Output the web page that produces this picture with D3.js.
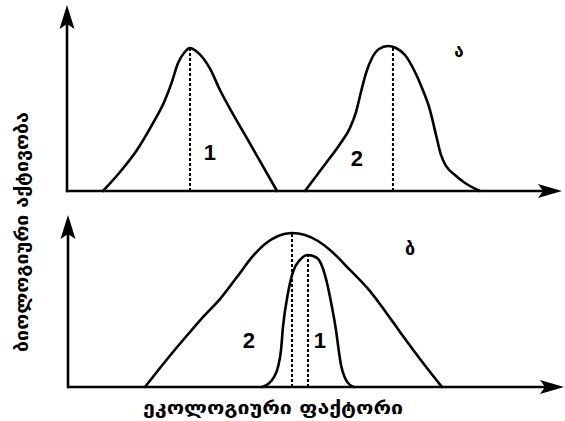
<!DOCTYPE html>
<html>
<head>
<meta charset="utf-8">
<script src="https://cdn.jsdelivr.net/npm/d3@7"></script>
<style>
  html, body { margin: 0; padding: 0; background: #fff; }
  svg { display: block; }
</style>
</head>
<body>
<svg id="chart" width="565" height="421"></svg>
<script>
// Ecological factor (x) vs biological activity (y), two schematic panels.
const axisTitleX = "ეკოლოგიური ფაქტორი";
const axisTitleY = "ბიოლოგიური აქტივობა";
const panelNames = ["ა", "ბ"];

// Panel ა: two separate optimum curves
const topCurve1X = [7.30, 10.75, 14.20, 17.24, 19.88, 21.30, 22.52, 23.73, 24.95, 26.17, 27.59, 29.01, 31.03, 33.47, 36.11, 39.35, 42.60];
const topCurve1Y = [0, 0.133, 0.287, 0.462, 0.636, 0.765, 0.895, 0.965, 1.0, 0.979, 0.930, 0.855, 0.706, 0.550, 0.392, 0.196, 0];
const topCurve2X = [48.28, 52.54, 55.38, 57.40, 58.62, 59.63, 60.65, 61.87, 63.29, 65.11, 66.73, 68.56, 70.39, 72.01, 73.63, 74.85, 75.86, 76.88, 78.70, 80.73, 83.77];
const topCurve2Y = [0, 0.196, 0.329, 0.441, 0.552, 0.692, 0.825, 0.930, 0.993, 1.014, 1.0, 0.951, 0.846, 0.720, 0.566, 0.392, 0.252, 0.175, 0.112, 0.056, 0];
const topPeaksX = [24.95, 66.12];
const topPeaksY = [1.0, 1.007];

// Panel ბ: wide tolerance curve (2) and narrow one (1)
const botCurve2X = [15.82, 18.86, 21.50, 24.95, 27.99, 31.03, 34.48, 37.73, 40.16, 42.80, 45.64, 48.28, 50.91, 53.35, 57.40, 61.46, 64.50, 67.55, 71.60, 76.06];
const botCurve2Y = [0, 0.123, 0.227, 0.357, 0.468, 0.571, 0.714, 0.851, 0.929, 0.981, 1.0, 0.987, 0.948, 0.890, 0.760, 0.623, 0.494, 0.357, 0.182, 0];
const botCurve1X = [39.55, 40.77, 41.99, 42.80, 43.41, 43.81, 44.83, 45.84, 47.26, 48.88, 50.71, 52.33, 53.75, 54.56, 54.97, 55.58, 56.39, 57.40, 58.22];
const botCurve1Y = [0, 0.019, 0.065, 0.130, 0.240, 0.390, 0.610, 0.747, 0.825, 0.857, 0.838, 0.727, 0.519, 0.370, 0.273, 0.143, 0.058, 0.013, 0];
const botPeaksX = [45.64, 48.88];
const botPeaksY = [1.0, 0.857];

// Curve number labels
const topLabelX = [29.0, 58.8];
const topLabelY = [0.27, 0.23];
const topLabelText = ["1", "2"];
const botLabelX = [36.9, 51.3];
const botLabelY = [0.305, 0.305];
const botLabelText = ["2", "1"];

const svg = d3.select("#chart");
const ink = "#000";

const x = d3.scaleLinear().domain([0, 100]).range([67, 560]);
const yTop = d3.scaleLinear().domain([0, 1]).range([191, 48]);
const yBot = d3.scaleLinear().domain([0, 1]).range([387, 233]);

function arrowAxes(xAxisStart, baseY, topY, endX) {
  const g = svg.append("g");
  g.append("line").attr("x1", xAxisStart).attr("y1", baseY).attr("x2", endX - 14).attr("y2", baseY)
    .attr("stroke", ink).attr("stroke-width", 2.6);
  g.append("line").attr("x1", xAxisStart).attr("y1", baseY + 1.3).attr("x2", xAxisStart).attr("y2", topY + 14)
    .attr("stroke", ink).attr("stroke-width", 2.6);
  // arrow heads (filled, slightly notched)
  g.append("path")
    .attr("d", `M${xAxisStart},${topY} L${xAxisStart + 7.5},${topY + 24} L${xAxisStart},${topY + 19} L${xAxisStart - 7.5},${topY + 24} Z`)
    .attr("fill", ink);
  g.append("path")
    .attr("d", `M${endX},${baseY} L${endX - 24},${baseY + 7} L${endX - 19},${baseY} L${endX - 24},${baseY - 7} Z`)
    .attr("fill", ink);
}

function drawCurve(xs, ys, yScale) {
  const pts = xs.map((v, i) => [v, ys[i]]);
  const line = d3.line()
    .x(d => x(d[0]))
    .y(d => yScale(d[1]))
    .curve(d3.curveMonotoneX);
  svg.append("path").datum(pts)
    .attr("d", line)
    .attr("fill", "none")
    .attr("stroke", ink)
    .attr("stroke-width", 2.6)
    .attr("stroke-linejoin", "round")
    .attr("stroke-linecap", "round");
}

function drawDrops(xs, ys, yScale) {
  xs.forEach((v, i) => {
    svg.append("line")
      .attr("x1", x(v)).attr("x2", x(v))
      .attr("y1", yScale(0)).attr("y2", yScale(ys[i]))
      .attr("stroke", ink).attr("stroke-width", 2)
      .attr("stroke-dasharray", "3,2");
  });
}

function drawNumbers(xs, ys, texts, yScale) {
  xs.forEach((v, i) => {
    svg.append("text")
      .attr("x", x(v)).attr("y", yScale(ys[i]))
      .attr("text-anchor", "middle").attr("dominant-baseline", "central")
      .attr("font-family", "Liberation Sans, Arial, sans-serif")
      .attr("font-weight", "bold").attr("font-size", 22)
      .attr("fill", ink)
      .text(texts[i]);
  });
}

// Panel ა
arrowAxes(x(0), yTop(0), 5, 562);
drawDrops(topPeaksX, topPeaksY, yTop);
drawCurve(topCurve1X, topCurve1Y, yTop);
drawCurve(topCurve2X, topCurve2Y, yTop);
drawNumbers(topLabelX, topLabelY, topLabelText, yTop);

// Panel ბ
arrowAxes(x(0) + 1, yBot(0), 215, 564);
drawDrops(botPeaksX, botPeaksY, yBot);
drawCurve(botCurve2X, botCurve2Y, yBot);
drawCurve(botCurve1X, botCurve1Y, yBot);
drawNumbers(botLabelX, botLabelY, botLabelText, yBot);

// Panel letters
const geo = "DejaVu Sans, sans-serif";
svg.append("text").attr("x", 459).attr("y", 51)
  .attr("text-anchor", "middle").attr("dominant-baseline", "central")
  .attr("font-family", geo).attr("font-weight", "bold").attr("font-size", 17)
  .attr("fill", ink).text(panelNames[0]);
svg.append("text").attr("x", 410).attr("y", 248)
  .attr("text-anchor", "middle").attr("dominant-baseline", "central")
  .attr("font-family", geo).attr("font-weight", "bold").attr("font-size", 18)
  .attr("fill", ink).text(panelNames[1]);

// Axis titles
svg.append("text")
  .attr("x", 273).attr("y", 408)
  .attr("text-anchor", "middle").attr("dominant-baseline", "central")
  .attr("font-family", geo).attr("font-weight", "bold").attr("font-size", 17)
  .attr("textLength", 260).attr("lengthAdjust", "spacingAndGlyphs")
  .attr("fill", ink).text(axisTitleX);

svg.append("text")
  .attr("transform", "translate(22,232) rotate(-90)")
  .attr("text-anchor", "middle").attr("dominant-baseline", "central")
  .attr("font-family", geo).attr("font-weight", "bold").attr("font-size", 17)
  .attr("textLength", 240).attr("lengthAdjust", "spacingAndGlyphs")
  .attr("fill", ink).text(axisTitleY);
</script>
</body>
</html>
